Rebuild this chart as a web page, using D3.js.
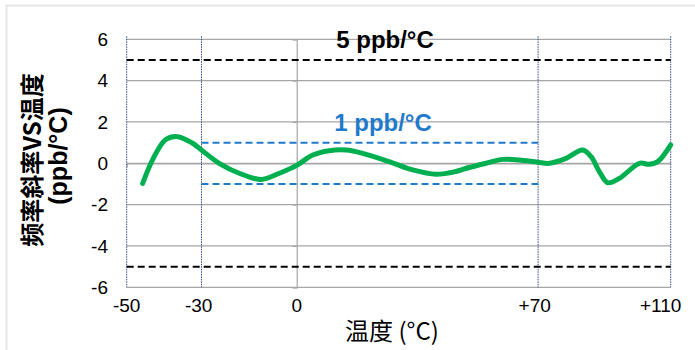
<!DOCTYPE html>
<html><head><meta charset="utf-8">
<script src="https://cdn.jsdelivr.net/npm/d3@7"></script>
<style>body{margin:0;background:#fff}svg{display:block}</style>
</head><body><svg id="c" width="695" height="350"></svg>
<script>
// ---- data ----
const temps  = [-45.3,-42,-38.5,-35,-30.6,-28,-22.8,-16.9,-10.5,-5.1,0,4.7,9.6,14.5,19.4,27.2,34.1,41,46.8,50,55.7,60.6,65.5,70.9,74.3,79.2,84.1,86.6,89,91.5,94.9,100.8,103.7,106.2,110];
const slopes = [-0.97,0.3,1.15,1.29,0.97,0.64,0.0,-0.48,-0.78,-0.48,-0.1,0.4,0.61,0.64,0.48,0.08,-0.32,-0.53,-0.4,-0.24,0.0,0.19,0.16,0.05,0.0,0.24,0.64,0.32,-0.4,-0.94,-0.73,0.0,-0.05,0.08,0.89];
const yTicks = [-6,-4,-2,0,2,4,6];
const xTickValues = [-50,-30,0,70,110];
const xTickLabels = ["-50","-30","0","+70","+110"];
const xMinorTicks = [-50,50,100];
const outerLimits = [5,-5];
const outerLabel = "5 ppb/°C";
const innerLimits = [1,-1];
const innerLabel = "1 ppb/°C";
const innerRange = [-28,71];
const boundaryLines = [-50,-28,71,110];
const yTitle1 = "频率斜率VS温度";
const yTitle2 = "(ppb/°C)";
const xTitle = "温度 (°C)";

// ---- scales ----
const svg = d3.select("#c");
const x = d3.scaleLinear().domain([-50,110]).range([126.7,670.7]);
const y = d3.scaleLinear().domain([-6,6]).range([287.3,39.3]);
const num = "'Liberation Sans', Arial, sans-serif";
const cjk = "'Noto Sans CJK SC', 'Liberation Sans', sans-serif";

// frame
svg.append("path").attr("d","M6.5,350 V5.5 H695").attr("fill","none").attr("stroke","#e6e6e6").attr("stroke-width",2);

// horizontal gridlines
svg.append("g").selectAll("line").data(yTicks).join("line")
  .attr("x1",x(-50)).attr("x2",x(110)).attr("y1",d=>y(d)).attr("y2",d=>y(d))
  .attr("stroke","#a6a6a6").attr("stroke-width",1.2);

// y axis at x=0
const yAxis = d3.axisLeft(y).tickValues(yTicks).tickSize(4).tickFormat("");
svg.append("g").attr("transform",`translate(${x(0)},0)`).call(yAxis)
  .call(g=>g.selectAll("line,path").attr("stroke","#a6a6a6").attr("stroke-width",1.2));

// x axis at y=0 (minor ticks)
const xAxis = d3.axisBottom(x).tickValues(xMinorTicks).tickSize(4).tickSizeOuter(0).tickFormat("");
svg.append("g").attr("transform",`translate(0,${y(0)})`).call(xAxis)
  .call(g=>g.selectAll("line,path").attr("stroke","#a6a6a6").attr("stroke-width",1.2));

// boundary dotted verticals
svg.append("g").selectAll("line").data(boundaryLines).join("line")
  .attr("x1",d=>x(d)).attr("x2",d=>x(d)).attr("y1",y(6)-3).attr("y2",y(-6))
  .attr("stroke","#2e4a8c").attr("stroke-width",1).attr("stroke-dasharray","1.5,1");

// limit lines
svg.append("g").selectAll("line").data(outerLimits).join("line")
  .attr("x1",x(-50)).attr("x2",x(110)).attr("y1",d=>y(d)).attr("y2",d=>y(d))
  .attr("stroke","#000").attr("stroke-width",2).attr("stroke-dasharray","7,4");
svg.append("g").selectAll("line").data(innerLimits).join("line")
  .attr("x1",x(innerRange[0])).attr("x2",x(innerRange[1])).attr("y1",d=>y(d)).attr("y2",d=>y(d))
  .attr("stroke","#1f7acb").attr("stroke-width",2).attr("stroke-dasharray","7,4");

// curve
const pts = temps.map((t,i)=>[t,slopes[i]]);
svg.append("path").datum(pts)
  .attr("d",d3.line().x(d=>x(d[0])).y(d=>y(d[1])).curve(d3.curveCatmullRom.alpha(0.5)))
  .attr("fill","none").attr("stroke","#00b050").attr("stroke-width",5).attr("stroke-linecap","round").attr("stroke-linejoin","round");

// y tick labels
svg.append("g").selectAll("text").data(yTicks).join("text")
  .attr("x",108).attr("y",d=>y(d)).attr("dy","0.36em").attr("text-anchor","end")
  .attr("font-family",num).attr("font-size",19).attr("fill","#000").text(d=>d);

// x tick labels
svg.append("g").selectAll("text").data(xTickValues).join("text")
  .attr("x",d=>x(d)).attr("y",312).attr("text-anchor","middle")
  .attr("dx",(d,i)=>i===xTickValues.length-1?-10:(i===1?4:0))
  .attr("font-family",num).attr("font-size",19).attr("fill","#000").text((d,i)=>xTickLabels[i]);

// limit labels
svg.append("text").attr("x",385).attr("y",48).attr("text-anchor","middle")
  .attr("font-family",num).attr("font-weight","bold").attr("font-size",24).attr("fill","#000").text(outerLabel);
svg.append("text").attr("x",383).attr("y",131).attr("text-anchor","middle")
  .attr("font-family",num).attr("font-weight","bold").attr("font-size",24).attr("fill","#1f7acb").text(innerLabel);

// axis titles
svg.append("text").attr("transform","translate(41,160) rotate(-90)").attr("text-anchor","middle")
  .attr("font-family",cjk).attr("font-weight","bold").attr("font-size",24).attr("fill","#000").text(yTitle1);
svg.append("text").attr("transform","translate(67,156) rotate(-90)").attr("text-anchor","middle")
  .attr("font-family",num).attr("font-weight","bold").attr("font-size",25).attr("fill","#000").text(yTitle2);
svg.append("text").attr("x",392).attr("y",340).attr("text-anchor","middle")
  .attr("font-family",cjk).attr("font-size",24).attr("fill","#000").text(xTitle);
</script></body></html>
